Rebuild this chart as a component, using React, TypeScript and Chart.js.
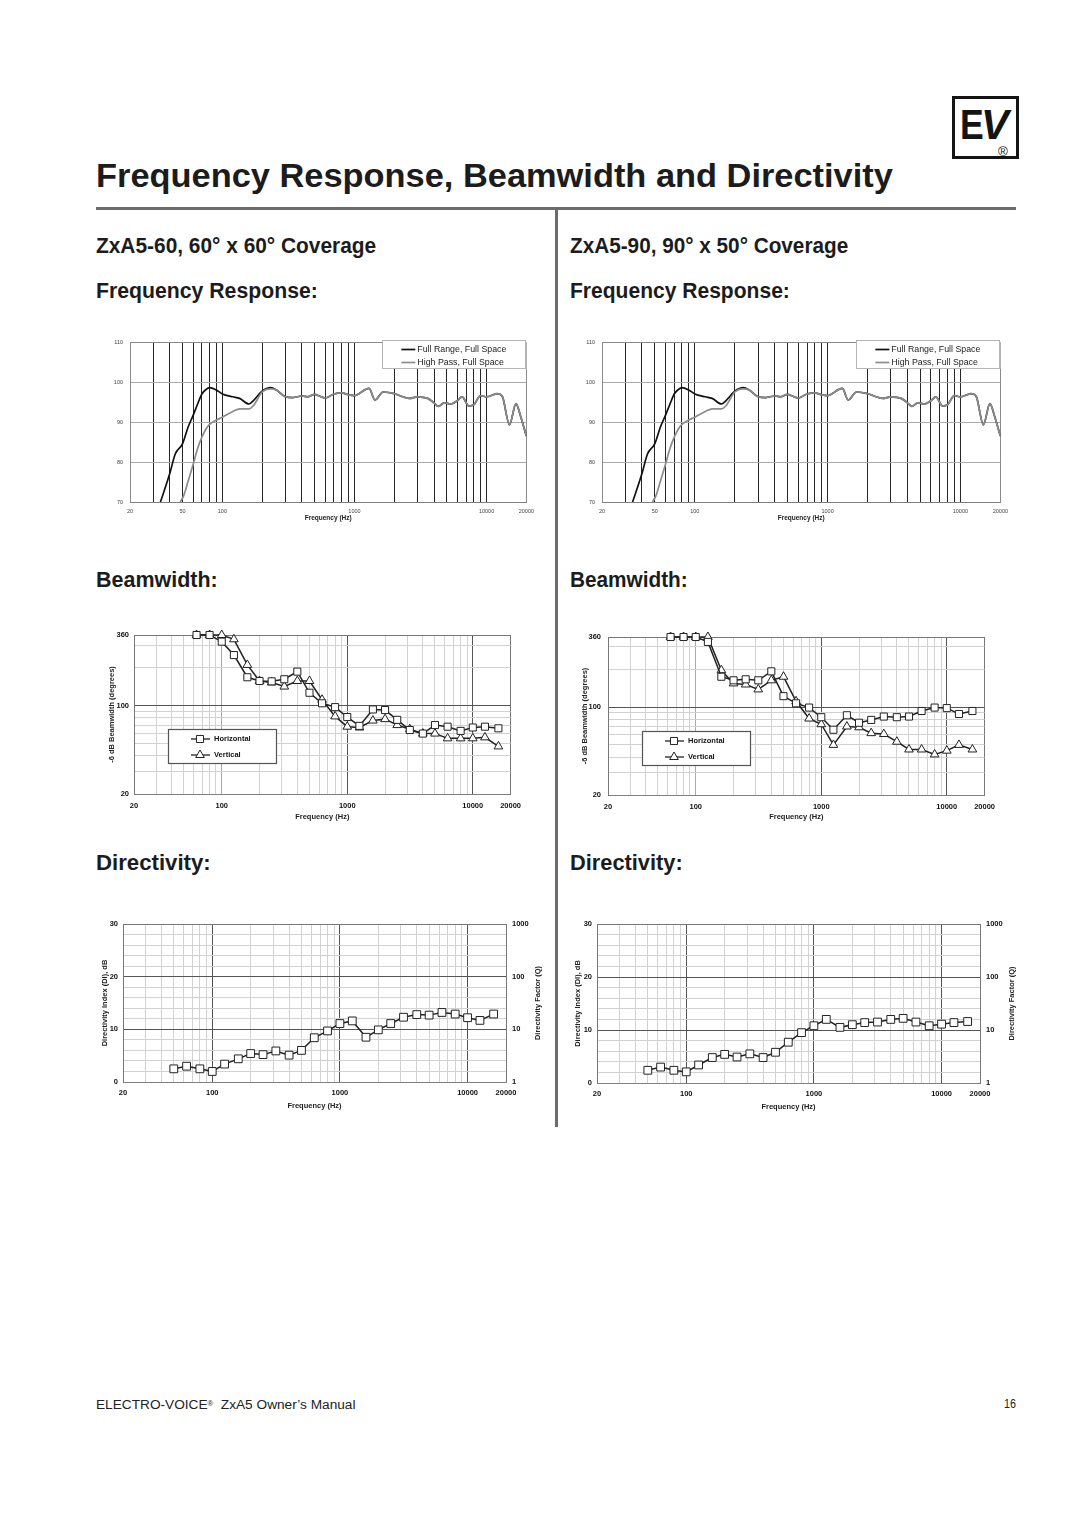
import React, { useEffect, useLayoutEffect, useRef, useState } from 'react';
import { Chart, registerables } from 'chart.js';

Chart.register(...registerables);

const FONT = "'Liberation Sans', Arial, Helvetica, sans-serif";
Chart.defaults.font.family = FONT;
Chart.defaults.color = '#222';

// ---------------- Frequency response (dB) ----------------
const FR_FULL_FREQ = [34, 40, 44, 50, 55, 60, 65, 70, 75, 80, 90, 100, 120, 135, 159, 171, 200, 231];
const FR_FULL_DB = [70, 77.1, 82.0, 84.6, 88.7, 91.6, 94.5, 97.0, 98.1, 98.6, 98.0, 97.0, 96.3, 95.9, 94.5, 95.3, 97.7, 98.6];
const FR_HP_FREQ = [48, 51, 55, 60, 65, 70, 75, 80, 90, 100, 120, 135, 159, 171, 200, 231];
const FR_HP_DB = [70, 71.6, 75.1, 79.3, 83.4, 86.2, 88.2, 89.4, 90.5, 91.2, 92.6, 93.3, 93.3, 94.0, 97.5, 98.3];
const FR_TOP_FREQ = [257, 300, 342, 400, 443, 500, 540, 600, 700, 800, 900, 1000, 1206, 1291, 1430, 1649, 2000, 2324, 2610, 3000, 3586, 4000, 4309, 4775, 5355, 6000, 6533, 7330, 8000, 9000, 10000, 12030, 13120, 14900, 16700, 18000, 20000];
const FR_TOP_DB = [98.0, 96.3, 96.1, 96.5, 96.3, 96.9, 96.5, 96.0, 97.0, 97.3, 96.8, 96.6, 98.1, 98.4, 95.5, 97.5, 97.1, 96.3, 95.9, 96.3, 95.9, 94.8, 93.9, 94.8, 94.5, 95.3, 96.3, 94.0, 94.3, 96.6, 96.3, 97.1, 96.5, 89.3, 94.6, 91.7, 86.5];

// ---------------- Beamwidth (degrees) ----------------
const BW_FREQ = [63, 80, 100, 125, 160, 200, 250, 315, 400, 500, 630, 800, 1000, 1250, 1600, 2000, 2500, 3150, 4000, 5000, 6300, 8000, 10000, 12500, 16000];
const BW60_H = [360, 360, 319, 250, 167, 156, 155, 161, 185, 126, 104, 97, 81, 69, 93, 92, 77, 64, 60, 70, 68, 63, 67, 68, 66];
const BW60_V = [360, 360, 360, 333, 209, 156, 152, 141, 156, 156, 111, 82, 68, 67, 76, 78, 70, 65, 60, 60, 55, 55, 55, 56, 47.5];
const BW90_H = [360, 360, 360, 329, 174, 163, 166, 163, 192, 122, 107, 99, 83, 66, 86, 75, 79, 84, 83, 84, 93, 99, 98, 88, 93];
const BW90_V = [360, 360, 360, 360, 196, 154, 151, 138, 163, 174, 111, 81, 73, 50, 70, 69, 62, 61, 53, 46, 46, 42, 45, 50, 46];

// ---------------- Directivity index (dB) ----------------
const DI_FREQ = [50, 63, 80, 100, 125, 160, 200, 250, 315, 400, 500, 630, 800, 1000, 1250, 1600, 2000, 2500, 3150, 4000, 5000, 6300, 8000, 10000, 12500, 16000];
const DI60 = [2.5, 3.0, 2.5, 2.0, 3.4, 4.4, 5.4, 5.2, 5.9, 5.1, 6.0, 8.4, 9.7, 11.1, 11.6, 8.5, 9.9, 11.1, 12.3, 12.8, 12.7, 13.2, 12.9, 12.2, 11.7, 12.9];
const DI90 = [2.4, 3.0, 2.4, 2.1, 3.4, 4.8, 5.4, 4.9, 5.5, 4.8, 5.8, 7.7, 9.5, 10.8, 12.0, 10.5, 11.0, 11.4, 11.5, 12.0, 12.2, 11.5, 10.8, 11.1, 11.4, 11.6];

// ---------------- Axes ticks ----------------
const FREQ_GRID = [20, 30, 40, 50, 60, 70, 80, 90, 100, 200, 300, 400, 500, 600, 700, 800, 900, 1000, 2000, 3000, 4000, 5000, 6000, 7000, 8000, 9000, 10000, 20000];
const FR_FREQ_LABELS = [20, 50, 100, 1000, 10000, 20000];
const BW_FREQ_LABELS = [20, 100, 1000, 10000, 20000];
const FR_DB_TICKS = [70, 80, 90, 100, 110];
const BW_DEG_GRID = [20, 30, 40, 50, 60, 70, 80, 90, 100, 200, 300, 360];
const BW_DEG_LABELS = [20, 100, 360];
const DI_GRID = [0, 2, 4, 6, 8, 10, 12, 14, 16, 18, 20, 22, 24, 26, 28, 30];
const DI_LABELS = [0, 10, 20, 30];
const Q_TICKS = [1, 10, 100, 1000];

const pts = (xs: number[], ys: number[]) => xs.map((x, i) => ({ x, y: ys[i] }));

const BOLD = (size: number) => ({ size, weight: 'bold' as const, family: FONT });

function drawMarker(ctx: CanvasRenderingContext2D, style: string, x: number, y: number, r: number) {
  ctx.beginPath();
  if (style === 'rect') {
    const s = Math.SQRT1_2 * r;
    ctx.rect(x - s, y - s, 2 * s, 2 * s);
  } else {
    ctx.moveTo(x, y - r);
    ctx.lineTo(x + 0.866 * r, y + 0.5 * r);
    ctx.lineTo(x - 0.866 * r, y + 0.5 * r);
    ctx.closePath();
  }
  ctx.fillStyle = '#fff';
  ctx.fill();
  ctx.strokeStyle = '#222';
  ctx.lineWidth = 1;
  ctx.stroke();
}

const frLegend = {
  id: 'frLegend',
  afterDraw(chart: any) {
    const { ctx, chartArea: a } = chart;
    const w = 144, h = 29;
    const x0 = a.right - w, y0 = a.top - 2;
    ctx.save();
    ctx.fillStyle = '#fff';
    ctx.fillRect(x0, y0, w, h);
    ctx.strokeStyle = '#b5b5b5';
    ctx.lineWidth = 1;
    ctx.strokeRect(Math.round(x0) + 0.5, Math.round(y0) + 0.5, w - 1, h - 1);
    [0, 1].forEach((di, i) => {
      const ds = chart.data.datasets[di];
      const yy = y0 + 9.5 + i * 13;
      ctx.strokeStyle = ds.borderColor;
      ctx.lineWidth = 1.7;
      ctx.beginPath();
      ctx.moveTo(x0 + 19, yy);
      ctx.lineTo(x0 + 33, yy);
      ctx.stroke();
      ctx.fillStyle = '#222';
      ctx.font = `8.8px ${FONT}`;
      ctx.textBaseline = 'middle';
      ctx.fillText(ds.label, x0 + 35, yy);
    });
    ctx.restore();
  },
};

const bwLegend = {
  id: 'bwLegend',
  afterDraw(chart: any) {
    const { ctx, chartArea: a } = chart;
    const x0 = Math.round(a.left + 34), y0 = Math.round(a.top + 94), w = 108, h = 34;
    ctx.save();
    ctx.fillStyle = '#fff';
    ctx.fillRect(x0, y0, w, h);
    ctx.strokeStyle = '#555';
    ctx.lineWidth = 1.2;
    ctx.strokeRect(x0 + 0.5, y0 + 0.5, w, h);
    chart.data.datasets.forEach((ds: any, i: number) => {
      const yy = y0 + 10 + i * 16;
      ctx.strokeStyle = '#222';
      ctx.lineWidth = 1.3;
      ctx.beginPath();
      ctx.moveTo(x0 + 23, yy);
      ctx.lineTo(x0 + 42, yy);
      ctx.stroke();
      drawMarker(ctx, ds.pointStyle, x0 + 32, yy, 5);
      ctx.fillStyle = '#111';
      ctx.font = `bold 7.5px ${FONT}`;
      ctx.textBaseline = 'middle';
      ctx.fillText(ds.label, x0 + 46, yy);
    });
    ctx.restore();
  },
};

const qTitle = {
  id: 'qTitle',
  afterDraw(chart: any) {
    const s = chart.scales.y2;
    const a = chart.chartArea;
    const { ctx } = chart;
    ctx.save();
    ctx.translate(s.right - 12, (a.top + a.bottom) / 2);
    ctx.rotate(-Math.PI / 2);
    ctx.fillStyle = '#222';
    ctx.font = `bold 7.5px ${FONT}`;
    ctx.textAlign = 'center';
    ctx.textBaseline = 'middle';
    ctx.fillText('Directivity Factor (Q)', 0, 0);
    ctx.restore();
  },
};

function freqAxis(labels: number[], xH: number, tickPad: number, titlePad: number, fontSize: number, bold: boolean, gridColor: (v: number) => string, titleSize: number) {
  return {
    type: 'logarithmic',
    min: 20,
    max: 20000,
    afterBuildTicks: (s: any) => { s.ticks = FREQ_GRID.map((v) => ({ value: v })); },
    afterFit: (s: any) => { s.height = xH; },
    ticks: {
      autoSkip: false, maxRotation: 0, minRotation: 0, padding: tickPad,
      color: bold ? '#111' : '#444',
      font: bold ? BOLD(fontSize) : { size: fontSize, family: FONT },
      callback: (v: any) => (labels.includes(Number(v)) ? String(v) : ''),
    },
    grid: { drawTicks: false, lineWidth: 1, color: (c: any) => gridColor(c.tick ? c.tick.value : 0) },
    border: { color: '#808080' },
    title: { display: true, text: 'Frequency (Hz)', color: '#222', font: BOLD(titleSize), padding: { top: 0, bottom: titlePad } },
  };
}

function frConfig(g: any) {
  return {
    type: 'line',
    data: {
      datasets: [
        { label: 'Full Range, Full Space', data: [...pts(FR_FULL_FREQ, FR_FULL_DB), ...pts(FR_TOP_FREQ, FR_TOP_DB)], borderColor: '#111', borderWidth: 1.7, order: 1 },
        { label: 'High Pass, Full Space', data: [...pts(FR_HP_FREQ, FR_HP_DB), ...pts(FR_TOP_FREQ, FR_TOP_DB)], borderColor: '#8c8c8c', borderWidth: 1.7, order: 0 },
      ],
    },
    options: {
      animation: false, responsive: false, events: [],
      layout: { padding: { left: 0, top: g.top, right: g.right, bottom: 0 } },
      elements: { point: { radius: 0 }, line: { tension: 0.4, cubicInterpolationMode: 'monotone' } },
      plugins: { legend: { display: false }, tooltip: { enabled: false } },
      scales: {
        x: freqAxis(FR_FREQ_LABELS, g.xH, 6, 8, 5.5, false, (v) => (v === 20 || v === 20000 ? '#8a8a8a' : '#262626'), 6.5),
        y: {
          min: 70, max: 110,
          afterBuildTicks: (s: any) => { s.ticks = FR_DB_TICKS.map((v) => ({ value: v })); },
          afterFit: (s: any) => { s.width = g.yW; },
          ticks: { autoSkip: false, padding: 7, color: '#444', font: { size: 5.5, family: FONT } },
          grid: { drawTicks: false, color: (c: any) => (c.tick && (c.tick.value === 70 || c.tick.value === 110) ? '#8a8a8a' : '#ababab') },
          border: { color: '#8a8a8a' },
        },
      },
    },
    plugins: [frLegend],
  };
}

function bwConfig(g: any, h: number[], v: number[]) {
  const common = { borderColor: '#222', borderWidth: 1.5, pointBackgroundColor: '#fff', pointBorderColor: '#222', pointBorderWidth: 1, pointRadius: 5, tension: 0, clip: false };
  return {
    type: 'line',
    data: {
      datasets: [
        { ...common, label: 'Horizontal', pointStyle: 'rect', data: pts(BW_FREQ, h) },
        { ...common, label: 'Vertical', pointStyle: 'triangle', data: pts(BW_FREQ, v) },
      ],
    },
    options: {
      animation: false, responsive: false, events: [],
      layout: { padding: { left: 0, top: g.top, right: g.right, bottom: 0 } },
      plugins: { legend: { display: false }, tooltip: { enabled: false } },
      scales: {
        x: freqAxis(BW_FREQ_LABELS, g.xH, 7, 5.5, 7.5, true, (val) => (val === 1000 || val === 10000 ? '#555' : val === 20000 ? '#777' : val === 100 ? '#aaa' : '#d2d2d2'), 7.5),
        y: {
          type: 'logarithmic', min: 20, max: 360,
          afterBuildTicks: (s: any) => { s.ticks = BW_DEG_GRID.map((t) => ({ value: t })); },
          afterFit: (s: any) => { s.width = g.yW; },
          ticks: { autoSkip: false, padding: g.yTickPad, color: '#111', font: BOLD(7.5), callback: (t: any) => (BW_DEG_LABELS.includes(Number(t)) ? String(t) : '') },
          grid: { drawTicks: false, color: (c: any) => { const t = c.tick ? c.tick.value : 0; return t === 100 ? '#555' : t === 360 ? '#777' : '#d2d2d2'; } },
          border: { color: '#777' },
          title: { display: true, text: '-6 dB Beamwidth (degrees)', color: '#222', font: BOLD(7.5), padding: { top: g.yTitlePad, bottom: 0 } },
        },
      },
    },
    plugins: [bwLegend],
  };
}

function diConfig(g: any, di: number[]) {
  return {
    type: 'line',
    data: {
      datasets: [
        { label: 'DI', data: pts(DI_FREQ, di), borderColor: '#222', borderWidth: 1.5, pointStyle: 'rect', pointRadius: 5.5, pointBackgroundColor: '#fff', pointBorderColor: '#222', pointBorderWidth: 1, tension: 0, clip: false, yAxisID: 'y' },
      ],
    },
    options: {
      animation: false, responsive: false, events: [],
      layout: { padding: { left: 0, top: g.top, right: 0, bottom: 0 } },
      plugins: { legend: { display: false }, tooltip: { enabled: false } },
      scales: {
        x: freqAxis(BW_FREQ_LABELS, g.xH, 6, 6.5, 7.5, true, (val) => (val === 100 || val === 1000 || val === 10000 ? '#555' : val === 20000 ? '#777' : '#d2d2d2'), 7.5),
        y: {
          min: 0, max: 30, position: 'left',
          afterBuildTicks: (s: any) => { s.ticks = DI_GRID.map((t) => ({ value: t })); },
          afterFit: (s: any) => { s.width = g.yW; },
          ticks: { autoSkip: false, padding: 5, color: '#111', font: BOLD(7.5), callback: (t: any) => (DI_LABELS.includes(Number(t)) ? String(t) : '') },
          grid: { drawTicks: false, color: (c: any) => { const t = c.tick ? c.tick.value : 0; return t === 10 || t === 20 ? '#555' : t === 30 ? '#777' : '#d2d2d2'; } },
          border: { color: '#777' },
          title: { display: true, text: 'Directivity Index (DI), dB', color: '#222', font: BOLD(7.5), padding: { top: 5.5, bottom: 0 } },
        },
        y2: {
          type: 'logarithmic', position: 'right', min: 1, max: 1000,
          afterBuildTicks: (s: any) => { s.ticks = Q_TICKS.map((t) => ({ value: t })); },
          afterFit: (s: any) => { s.width = g.y2W; },
          ticks: { autoSkip: false, padding: 6, color: '#111', font: BOLD(7.5), callback: (t: any) => String(t) },
          grid: { drawOnChartArea: false, drawTicks: false },
          border: { display: false },
        },
      },
    },
    plugins: [qTitle],
  };
}

function ChartCanvas({ x, y, w, h, make }: { x: number; y: number; w: number; h: number; make: () => any }) {
  const ref = useRef<HTMLCanvasElement>(null);
  useEffect(() => {
    const chart = new Chart(ref.current as HTMLCanvasElement, make());
    return () => chart.destroy();
  }, []);
  return <canvas ref={ref} width={w} height={h} style={{ position: 'absolute', left: x, top: y, width: w, height: h }} />;
}

function FitText({ x, baseline, size, weight = 400, width, color = '#1c1c1c', italic = false, children }: any) {
  const ref = useRef<HTMLSpanElement>(null);
  const [scale, setScale] = useState(1);
  useLayoutEffect(() => {
    if (width && ref.current) {
      const w = ref.current.offsetWidth;
      if (w > 0) setScale(width / w);
    }
  }, [width]);
  return (
    <span
      ref={ref}
      style={{
        position: 'absolute', left: x, top: baseline - 0.8465 * size, fontFamily: FONT, fontSize: size, fontWeight: weight,
        fontStyle: italic ? 'italic' : 'normal', lineHeight: `${size}px`, whiteSpace: 'nowrap', color,
        transform: `scaleX(${scale})`, transformOrigin: '0 0', display: 'inline-block',
      }}
    >
      {children}
    </span>
  );
}

export default function App() {
  return (
    <div style={{ position: 'absolute', left: 0, top: 0, width: 1080, height: 1527, background: '#fff', overflow: 'hidden' }}>
      {/* Logo */}
      <div style={{ position: 'absolute', left: 952, top: 96, width: 67, height: 63, border: '3px solid #141414', boxSizing: 'border-box' }} />
      <FitText x={960} baseline={139} size={43} weight={700} width={24} color="#141414">E</FitText>
      <FitText x={981} baseline={139} size={43} weight={700} width={28} italic color="#141414">V</FitText>
      <FitText x={998} baseline={156} size={12} width={10} color="#141414">®</FitText>

      <FitText x={96} baseline={187} size={34} weight={700} width={797}>Frequency Response, Beamwidth and Directivity</FitText>
      <div style={{ position: 'absolute', left: 96, top: 207, width: 920, height: 3, background: '#6c6c6c' }} />
      <div style={{ position: 'absolute', left: 555, top: 208, width: 3, height: 919, background: '#6c6c6c' }} />

      <FitText x={96} baseline={254} size={22} weight={700} width={280}>ZxA5-60, 60° x 60° Coverage</FitText>
      <FitText x={570} baseline={254} size={22} weight={700} width={278}>ZxA5-90, 90° x 50° Coverage</FitText>
      <FitText x={96} baseline={299} size={22} weight={700} width={222}>Frequency Response:</FitText>
      <FitText x={570} baseline={299} size={22} weight={700} width={220}>Frequency Response:</FitText>
      <FitText x={96} baseline={588} size={22} weight={700} width={122}>Beamwidth:</FitText>
      <FitText x={570} baseline={588} size={22} weight={700} width={118}>Beamwidth:</FitText>
      <FitText x={96} baseline={871} size={22} weight={700} width={115}>Directivity:</FitText>
      <FitText x={570} baseline={871} size={22} weight={700} width={113}>Directivity:</FitText>

      <ChartCanvas x={100} y={330} w={440} h={200} make={() => frConfig({ top: 12, right: 11, yW: 30, xH: 28 })} />
      <ChartCanvas x={572} y={330} w={442} h={200} make={() => frConfig({ top: 12, right: 11, yW: 30, xH: 28 })} />

      <ChartCanvas x={98} y={622} w={430} h={205} make={() => bwConfig({ top: 13, right: 13, yW: 36, xH: 33, yTickPad: 5, yTitlePad: 9.5 }, BW60_H, BW60_V)} />
      <ChartCanvas x={572} y={624} w={430} h={203} make={() => bwConfig({ top: 13, right: 14, yW: 36, xH: 32, yTickPad: 7, yTitlePad: 8.5 }, BW90_H, BW90_V)} />

      <ChartCanvas x={95} y={912} w={455} h={205} make={() => diConfig({ top: 12, yW: 28, y2W: 44, xH: 35 }, DI60)} />
      <ChartCanvas x={568} y={912} w={456} h={206} make={() => diConfig({ top: 12, yW: 29, y2W: 44, xH: 35 }, DI90)} />

      <FitText x={96} baseline={1409} size={12.5} width={259} color="#222">
        ELECTRO-VOICE<span style={{ fontSize: 7, verticalAlign: '3px' }}>®</span>&nbsp; ZxA5 Owner’s Manual
      </FitText>
      <FitText x={1004} baseline={1409} size={12.5} width={12} color="#222">16</FitText>
    </div>
  );
}
